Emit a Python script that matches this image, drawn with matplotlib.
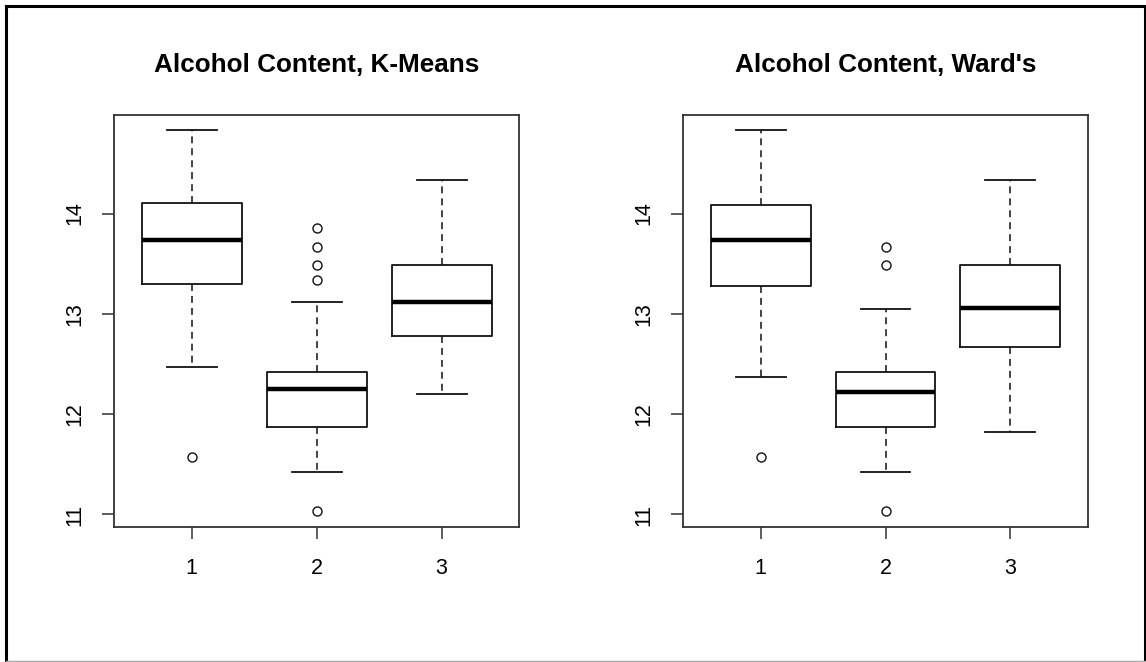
import matplotlib
matplotlib.use("Agg")
import matplotlib.pyplot as plt
from matplotlib.lines import Line2D

plt.rcParams["font.family"] = ["Liberation Sans", "DejaVu Sans"]
plt.rcParams["lines.scale_dashes"] = False

clusters = ["1", "2", "3"]
yticks = [11, 12, 13, 14]

# Five-number summaries per cluster: lower whisker, Q1, median, Q3, upper whisker
kmeans_whislo = [12.47, 11.42, 12.20]
kmeans_q1 = [13.30, 11.87, 12.78]
kmeans_med = [13.74, 12.25, 13.12]
kmeans_q3 = [14.10, 12.42, 13.49]
kmeans_whishi = [14.83, 13.12, 14.33]
kmeans_fliers = [[11.57], [11.03, 13.34, 13.49, 13.67, 13.86], []]

ward_whislo = [12.37, 11.42, 11.82]
ward_q1 = [13.28, 11.87, 12.67]
ward_med = [13.74, 12.22, 13.06]
ward_q3 = [14.08, 12.42, 13.49]
ward_whishi = [14.83, 13.05, 14.33]
ward_fliers = [[11.57], [11.03, 13.49, 13.67], []]

titles = ["Alcohol Content, K-Means", "Alcohol Content, Ward's"]


def make_stats(lo, q1, med, q3, hi, fl):
    return [
        dict(whislo=a, q1=b, med=c, q3=d, whishi=e, fliers=f, label=lab)
        for a, b, c, d, e, f, lab in zip(lo, q1, med, q3, hi, fl, clusters)
    ]


panels = [
    make_stats(kmeans_whislo, kmeans_q1, kmeans_med, kmeans_q3, kmeans_whishi, kmeans_fliers),
    make_stats(ward_whislo, ward_q1, ward_med, ward_q3, ward_whishi, ward_fliers),
]

fig = plt.figure(figsize=(11.46, 6.62), dpi=100)
W, H = 1146, 662
axes_px = [(114.3, 519.0), (683.3, 1087.7)]
top_px, bottom_px = 115.0, 526.7
title_px = 64.5

ink = "#111111"
frame = "#333333"

for (x0, x1), stats, title in zip(axes_px, panels, titles):
    ax = fig.add_axes([x0 / W, 1 - bottom_px / H, (x1 - x0) / W, (bottom_px - top_px) / H])
    ax.bxp(
        stats,
        positions=[1, 2, 3],
        widths=0.8,
        capwidths=0.4,
        patch_artist=False,
        boxprops=dict(color=ink, linewidth=1.3),
        whiskerprops=dict(color=ink, linewidth=1.1, linestyle=(0, (5.0, 3.6))),
        capprops=dict(color=ink, linewidth=1.3),
        medianprops=dict(color="black", linewidth=3.2, solid_capstyle="butt"),
        flierprops=dict(marker="o", markersize=6.5, markerfacecolor="none",
                        markeredgecolor=ink, markeredgewidth=1.0, linestyle="none"),
    )
    lo = 11.03
    hi = 14.83
    pad = 0.04 * (hi - lo)
    ax.set_ylim(lo - pad, hi + pad)
    ax.set_xlim(0.38, 3.62)
    ax.set_yticks(yticks)
    ax.set_yticklabels([str(v) for v in yticks], rotation=90, va="center")
    ax.set_xticks([1, 2, 3])
    ax.set_xticklabels(clusters)
    ax.tick_params(axis="both", length=8.6, width=1.1, color=frame,
                   labelsize=15.5, labelcolor="black")
    ax.tick_params(axis="x", pad=14)
    ax.tick_params(axis="y", pad=12)
    for sp in ax.spines.values():
        sp.set_color(frame)
        sp.set_linewidth(1.3)
    ax.set_title(title, fontsize=18.8, fontweight="bold", pad=0,
                 y=(1 - title_px / H - (1 - bottom_px / H)) / ((bottom_px - top_px) / H),
                 va="center")

# outer frame around the whole device
fr = dict(transform=fig.transFigure, color="black", linewidth=2.2, solid_capstyle="projecting")
fig.add_artist(Line2D([5.5 / W, 5.5 / W], [1 - 6 / H, 1 - 661 / H], **fr))
fig.add_artist(Line2D([5.5 / W, 1144.5 / W], [1 - 6 / H, 1 - 6 / H], **fr))
fig.add_artist(Line2D([1144.5 / W, 1144.5 / W], [1 - 6 / H, 1 - 661 / H], **fr))
fig.add_artist(Line2D([5.5 / W, 1144.5 / W], [1 - 661 / H, 1 - 661 / H],
                      transform=fig.transFigure, color="#aaaaaa", linewidth=1.0))

fig.savefig("out.png", dpi=100)
